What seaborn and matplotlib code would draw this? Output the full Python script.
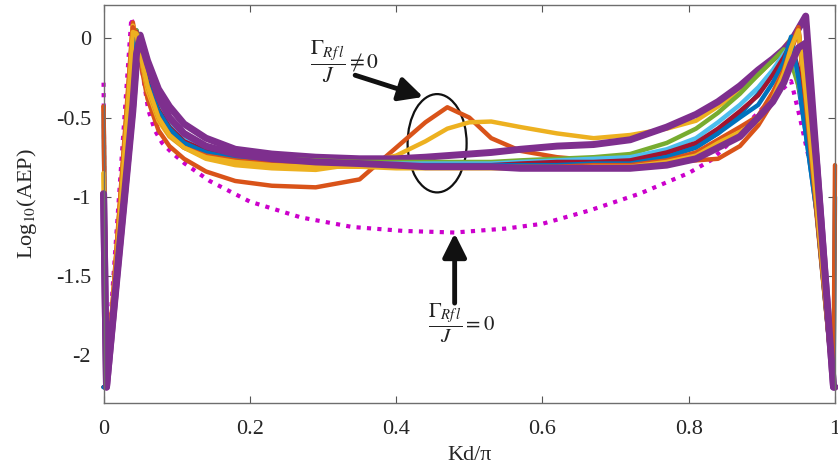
import matplotlib
matplotlib.use('Agg')
import matplotlib.pyplot as plt
from matplotlib.patches import Ellipse
import seaborn as sns

# shared Kd/pi grid for the coloured curves
kd = [0.0, 0.004, 0.02, 0.032, 0.04, 0.045, 0.05, 0.06, 0.075, 0.09, 0.11, 0.14,
      0.18, 0.23, 0.29, 0.35, 0.40, 0.44, 0.47, 0.50, 0.53, 0.57, 0.62, 0.67,
      0.72, 0.77, 0.81, 0.84, 0.87, 0.895, 0.915, 0.93, 0.94, 0.95, 0.96, 0.975,
      0.998, 1.0]

blue1 = [-2.2, -2.2, -1.32, -0.66, -0.22, 0.05, -0.08, -0.28, -0.47, -0.58, -0.66, -0.72,
         -0.75, -0.77, -0.78, -0.79, -0.79, -0.79, -0.79, -0.79, -0.79, -0.79, -0.79, -0.79,
         -0.78, -0.74, -0.68, -0.6, -0.48, -0.35, -0.22, -0.1, 0.0, -0.3, -0.6, -1.1,
         -2.2, -2.2]
orange2 = [-0.43, -2.2, -1.18, -0.41, 0.1, -0.02, -0.14, -0.38, -0.58, -0.68, -0.76, -0.84,
           -0.9, -0.93, -0.94, -0.89, -0.69, -0.53, -0.435, -0.5, -0.63, -0.71, -0.75, -0.77,
           -0.78, -0.78, -0.77, -0.76, -0.68, -0.55, -0.4, -0.22, -0.08, 0.05, -0.42, -1.12,
           -2.2, -2.2]
yellow3 = [-0.85, -2.2, -1.2, -0.45, 0.08, 0.02, -0.1, -0.33, -0.52, -0.62, -0.69, -0.76,
           -0.8, -0.82, -0.83, -0.79, -0.74, -0.65, -0.57, -0.53, -0.525, -0.56, -0.6, -0.63,
           -0.61, -0.57, -0.52, -0.43, -0.33, -0.23, -0.14, -0.06, 0.0, 0.06, -0.38, -1.05,
           -2.2, -2.2]
purple4 = [-0.98, -2.2, -1.43, -0.85, -0.46, -0.15, 0.02, -0.14, -0.32, -0.43, -0.54, -0.63,
           -0.7, -0.73, -0.75, -0.76, -0.76, -0.75, -0.74, -0.73, -0.72, -0.7, -0.68, -0.67,
           -0.64, -0.56, -0.48, -0.4, -0.3, -0.2, -0.13, -0.07, -0.02, 0.06, 0.14, -0.78,
           -2.2, -2.2]
green5 = [-2.2, -2.2, -1.32, -0.66, -0.22, 0.05, -0.06, -0.24, -0.42, -0.53, -0.62, -0.69,
          -0.73, -0.76, -0.77, -0.78, -0.78, -0.78, -0.78, -0.78, -0.78, -0.77, -0.76, -0.75,
          -0.73, -0.66, -0.57, -0.47, -0.35, -0.23, -0.14, -0.07, -0.15, -0.3, -0.5, -0.95,
          -2.2, -2.2]
cyan6 = [-0.47, -2.2, -1.32, -0.66, -0.22, 0.04, -0.07, -0.26, -0.44, -0.55, -0.64, -0.7,
         -0.74, -0.77, -0.78, -0.79, -0.79, -0.79, -0.79, -0.79, -0.79, -0.78, -0.77, -0.76,
         -0.75, -0.7, -0.63, -0.53, -0.42, -0.31, -0.2, -0.1, -0.04, -0.25, -0.55, -1.0,
         -2.2, -2.2]
darkred7 = [-2.2, -2.2, -1.32, -0.66, -0.22, 0.04, -0.08, -0.27, -0.45, -0.56, -0.65, -0.71,
            -0.75, -0.77, -0.78, -0.79, -0.8, -0.8, -0.8, -0.8, -0.8, -0.79, -0.78, -0.78,
            -0.77, -0.72, -0.66, -0.57, -0.46, -0.36, -0.23, -0.12, -0.03, -0.2, -0.5, -1.0,
            -2.2, -2.2]
blue8 = [-2.2, -2.2, -1.32, -0.66, -0.22, 0.03, -0.09, -0.28, -0.46, -0.57, -0.66, -0.72,
         -0.76, -0.78, -0.79, -0.8, -0.8, -0.8, -0.8, -0.8, -0.8, -0.8, -0.8, -0.79,
         -0.79, -0.75, -0.69, -0.6, -0.5, -0.42, -0.28, -0.15, 0.01, -0.25, -0.6, -1.1,
         -2.2, -1.0]
orange9 = [-0.43, -2.2, -1.2, -0.45, 0.07, 0.03, -0.1, -0.3, -0.5, -0.61, -0.69, -0.74,
           -0.77, -0.79, -0.8, -0.81, -0.81, -0.81, -0.81, -0.81, -0.81, -0.81, -0.81, -0.8,
           -0.8, -0.77, -0.72, -0.64, -0.56, -0.49, -0.34, -0.2, -0.06, 0.07, -0.4, -1.1,
           -2.2, -0.8]
yellow10 = [-0.85, -2.2, -1.25, -0.5, 0.04, 0.03, -0.1, -0.3, -0.5, -0.61, -0.69, -0.75,
            -0.78, -0.8, -0.81, -0.81, -0.82, -0.82, -0.82, -0.82, -0.82, -0.82, -0.82, -0.81,
            -0.81, -0.78, -0.74, -0.66, -0.59, -0.52, -0.38, -0.22, -0.06, 0.05, -0.35, -1.05,
            -2.2, -2.2]
purple11 = [-0.98, -2.2, -1.4, -0.82, -0.42, -0.1, 0.0, -0.16, -0.37, -0.5, -0.6, -0.68,
            -0.73, -0.76, -0.78, -0.79, -0.8, -0.81, -0.81, -0.81, -0.81, -0.82, -0.82, -0.82,
            -0.82, -0.8, -0.76, -0.69, -0.62, -0.5, -0.4, -0.28, -0.16, -0.06, -0.03, -0.8,
            -2.2, -2.2]

# Gamma/J = 0 reference curve
mag_x = [0.0, 0.003, 0.02, 0.03, 0.038, 0.045, 0.054, 0.061, 0.07, 0.08, 0.093, 0.111,
         0.145, 0.2, 0.27, 0.34, 0.41, 0.48, 0.55, 0.6, 0.665, 0.733, 0.8, 0.83, 0.856,
         0.884, 0.91, 0.94, 0.952, 0.962, 0.975, 0.998]
mag_y = [-0.28, -2.2, -1.07, -0.4, 0.13, 0.0, -0.24, -0.45, -0.58, -0.66, -0.72, -0.79,
         -0.9, -1.03, -1.13, -1.19, -1.215, -1.225, -1.2, -1.17, -1.085, -0.98, -0.85, -0.77,
         -0.66, -0.52, -0.4, -0.27, -0.5, -0.71, -0.95, -2.2]

curves = [blue1, orange2, yellow3, purple4, green5, cyan6, darkred7,
          blue8, orange9, yellow10, purple11]
colors = ['#0072BD', '#D95319', '#EDB120', '#7E2F8E', '#77AC30', '#4DBEEE', '#A2142F',
          '#0072BD', '#D95319', '#EDB120', '#7E2F8E']
widths = [3.2, 3.2, 3.2, 5.0, 3.2, 3.2, 3.2, 3.2, 3.2, 3.2, 5.0]

xticks = [0, 0.2, 0.4, 0.6, 0.8, 1]
xtick_labels = ['0', '0.2', '0.4', '0.6', '0.8', '1']
yticks = [-2, -1.5, -1, -0.5, 0]
ytick_labels = ['-2', '-1.5', '-1', '-0.5', '0']

sns.set_theme(style='ticks')
plt.rcParams['font.family'] = ['Liberation Serif', 'DejaVu Serif']
plt.rcParams['mathtext.fontset'] = 'stix'

fig = plt.figure(figsize=(8.38, 4.70), dpi=100)
ax = fig.add_axes([0.1236, 0.1426, 0.8728, 0.8468])
ax.set_facecolor('white')

sns.lineplot(x=mag_x, y=mag_y, color='#CC00CC', lw=3, linestyle=(0, (1, 1.5)),
             sort=False, estimator=None, ax=ax, clip_on=False)
for vals, c, w in zip(curves, colors, widths):
    sns.lineplot(x=kd, y=vals, color=c, lw=w, sort=False, estimator=None,
                 ax=ax, clip_on=False, solid_joinstyle='round')

ax.set_xlim(0, 1)
ax.set_ylim(-2.3, 0.21)
ax.set_xticks(xticks)
ax.set_xticklabels(xtick_labels)
ax.set_yticks(yticks)
ax.set_yticklabels(ytick_labels)
ax.tick_params(direction='in', length=5, width=0.8, colors='#555555',
               labelcolor='#262626', labelsize=16, top=True, right=True)
ax.tick_params(axis='x', pad=12)
ax.tick_params(axis='y', pad=9)
for s in ax.spines.values():
    s.set_color('#6e6e6e')
    s.set_linewidth(1.0)

ax.set_xlabel('Kd/π', fontsize=16, color='#262626', labelpad=5)
ax.set_ylabel(r'Log$_{10}$(AEP)', fontsize=16, color='#262626', labelpad=12)

# annotations
ax.text(0.33, -0.15, r'$\dfrac{\Gamma_{Rf\,l}}{J}\neq 0$', fontsize=15.5,
        ha='center', va='center', color='#222222')
ax.annotate('', xy=(0.437, -0.37), xytext=(0.344, -0.233),
            arrowprops=dict(arrowstyle='-|>,head_length=0.9,head_width=0.45',
                            lw=3.5, color='#111111', mutation_scale=16,
                            shrinkA=0, shrinkB=0))
ax.add_patch(Ellipse((0.456, -0.662), 0.0807, 0.62, fill=False,
                     edgecolor='#111111', lw=1.6))
ax.annotate('', xy=(0.48, -1.23), xytext=(0.48, -1.67),
            arrowprops=dict(arrowstyle='-|>,head_length=0.9,head_width=0.45',
                            lw=3.5, color='#111111', mutation_scale=16,
                            shrinkA=0, shrinkB=0))
ax.text(0.49, -1.8, r'$\dfrac{\Gamma_{Rf\,l}}{J}=0$', fontsize=15,
        ha='center', va='center', color='#222222')

fig.savefig('out.png', dpi=100)
